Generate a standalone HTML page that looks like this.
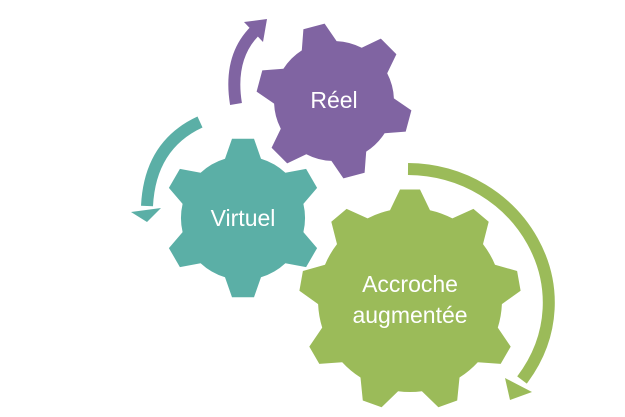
<!DOCTYPE html>
<html><head><meta charset="utf-8"><style>
html,body{margin:0;padding:0;background:#fff;}
svg{display:block}
text{font-family:"Liberation Sans",sans-serif;fill:#fff;text-anchor:middle;font-size:23px}
</style></head><body>
<svg id="s" width="625" height="417" viewBox="0 0 625 417" xmlns="http://www.w3.org/2000/svg">
<g id="g"></g>
<path d="M236,104 Q228,55 258,28" fill="none" stroke="#8064A2" stroke-width="12"/>
<polygon points="244,22 267,19 263,42" fill="#8064A2"/>
<path d="M200,122 Q150,145 147,206" fill="none" stroke="#5BAFA6" stroke-width="12"/>
<polygon points="131,212 161,208 147,222" fill="#5BAFA6"/>
<path d="M408,169 C520,170 590,290 522,380" fill="none" stroke="#9BBB59" stroke-width="12"/>
<polygon points="505,378 532,392 510,400" fill="#9BBB59"/>
<text x="334" y="108">Réel</text>
<text x="243" y="226">Virtuel</text>
<text x="410" y="292">Accroche</text>
<text x="410" y="323">augmentée</text>
</svg>
<script>
function gear(cx,cy,r,R,n,a0,bw,tw,col){
 let d='M';
 let segs=[];
 const ab=Math.asin(bw/r), at=Math.asin(tw/R);
 for(let i=0;i<n;i++){
  let a=(a0+i*360/n)*Math.PI/180;
  segs.push(`${(cx+r*Math.cos(a-ab)).toFixed(1)},${(cy+r*Math.sin(a-ab)).toFixed(1)} L${(cx+R*Math.cos(a-at)).toFixed(1)},${(cy+R*Math.sin(a-at)).toFixed(1)} L${(cx+R*Math.cos(a+at)).toFixed(1)},${(cy+R*Math.sin(a+at)).toFixed(1)} L${(cx+r*Math.cos(a+ab)).toFixed(1)},${(cy+r*Math.sin(a+ab)).toFixed(1)}`);
 }
 for(let i=0;i<n;i++){
  let a2=(a0+((i+1)%n)*360/n)*Math.PI/180-ab;
  d+=(i?' L':'')+segs[i]+` A${r},${r} 0 0 1 ${(cx+r*Math.cos(a2)).toFixed(1)},${(cy+r*Math.sin(a2)).toFixed(1)}`;
 }
 d+='Z';
 const e=document.createElementNS('http://www.w3.org/2000/svg','path');
 e.setAttribute('d',d);e.setAttribute('fill',col);
 document.getElementById('g').appendChild(e);
}
gear(243,218,62,80,6,-90,18,11,'#5BAFA6');
gear(334,101,60,78,6,-105,18,11,'#8064A2');
gear(410,300,92,111,9,-90,20,10,'#9BBB59');
</script>
</body></html>
